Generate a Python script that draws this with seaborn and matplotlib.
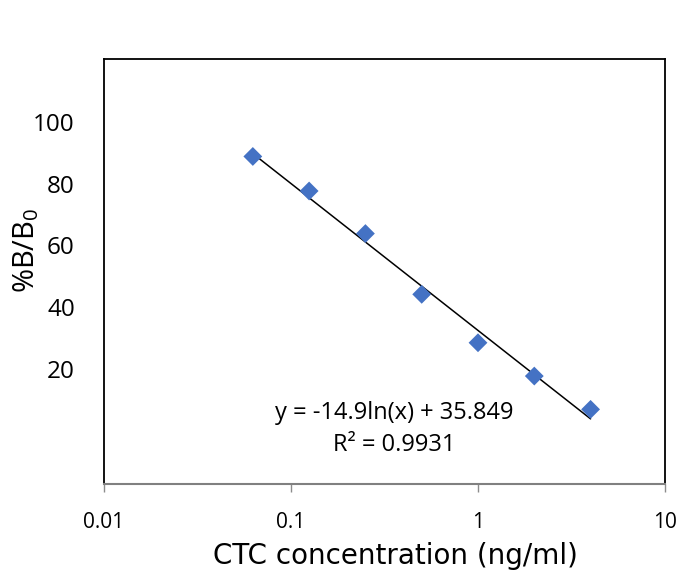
import numpy as np
import pandas as pd
import matplotlib
matplotlib.use("Agg")
import matplotlib.pyplot as plt
import seaborn as sns

# Data
conc = [0.0625, 0.125, 0.25, 0.5, 1, 2, 4]
pct_b_b0 = [88.8, 77.6, 63.8, 44.1, 28.4, 17.6, 6.8]
x_ticks = [0.01, 0.1, 1, 10]
x_tick_labels = ["0.01", "0.1", "1", "10"]
y_ticks = [20, 40, 60, 80, 100]
y_tick_labels = ["20", "40", "60", "80", "100"]
eq_text = "y = -14.9ln(x) + 35.849"
r2_text = "R² = 0.9931"

sns.set_theme(style="white")
plt.rcParams['font.family'] = ['Open Sans', 'DejaVu Sans']
plt.rcParams['mathtext.fontset'] = 'custom'
plt.rcParams['mathtext.rm'] = 'Open Sans'
plt.rcParams['mathtext.it'] = 'Open Sans'
plt.rcParams['text.color'] = 'black'
plt.rcParams['axes.labelcolor'] = 'black'
plt.rcParams['xtick.labelcolor'] = 'black'
plt.rcParams['ytick.labelcolor'] = 'black'

df = pd.DataFrame({"conc": conc, "val": pct_b_b0})

# Logarithmic trendline fitted from data
coef = np.polyfit(np.log(df["conc"]), df["val"], 1)
xfit = np.geomspace(min(conc), max(conc), 50)
fit_df = pd.DataFrame({"conc": xfit, "val": coef[0] * np.log(xfit) + coef[1]})

fig = plt.figure(figsize=(6.8, 5.72), dpi=100)
ax = fig.add_axes([104 / 680, 1 - 484 / 572, (665 - 104) / 680, (484 - 59) / 572])

sns.lineplot(data=fit_df, x="conc", y="val", ax=ax, color="black", linewidth=1.1, zorder=2)
sns.scatterplot(data=df, x="conc", y="val", ax=ax, marker="D", s=92,
                color="#4472C4", edgecolor="none", zorder=3)

ax.set_xscale("log")
ax.set_xlim(0.01, 10)
ax.set_ylim(-17.4, 120.4)
ax.set_xticks(x_ticks)
ax.set_xticklabels(x_tick_labels, fontsize=15, color="black")
ax.minorticks_off()
ax.set_yticks(y_ticks)
ax.set_yticklabels(y_tick_labels, fontsize=17.5, color="black")

ax.tick_params(axis="x", which="major", direction="out", length=6, width=1,
               color="#8c8c8c", pad=14, bottom=True)
ax.tick_params(axis="y", length=0, pad=21)

for side in ["left", "top", "right"]:
    ax.spines[side].set_color("black")
    ax.spines[side].set_linewidth(1.3)
ax.spines["bottom"].set_color("#808080")
ax.spines["bottom"].set_linewidth(1.5)

ax.set_xlabel("CTC concentration (ng/ml)", fontsize=20, va="center", ha="center",
              family=["DejaVu Sans"], color="black")
ax.xaxis.set_label_coords((395 - 104) / 561, (484 - 556) / 425)
ax.set_ylabel(r"%B/B$_{0}$", fontsize=21, va="center", ha="center", color="black")
ax.yaxis.set_label_coords((26 - 104) / 561, (484 - 250) / 425)

ax.text((394 - 104) / 561, (484 - 413) / 425, eq_text, transform=ax.transAxes,
        ha="center", va="center", fontsize=17, color="black")
ax.text((394 - 104) / 561, (484 - 445) / 425, r2_text, transform=ax.transAxes,
        ha="center", va="center", fontsize=17, color="black")

fig.savefig("out.png", dpi=100)
